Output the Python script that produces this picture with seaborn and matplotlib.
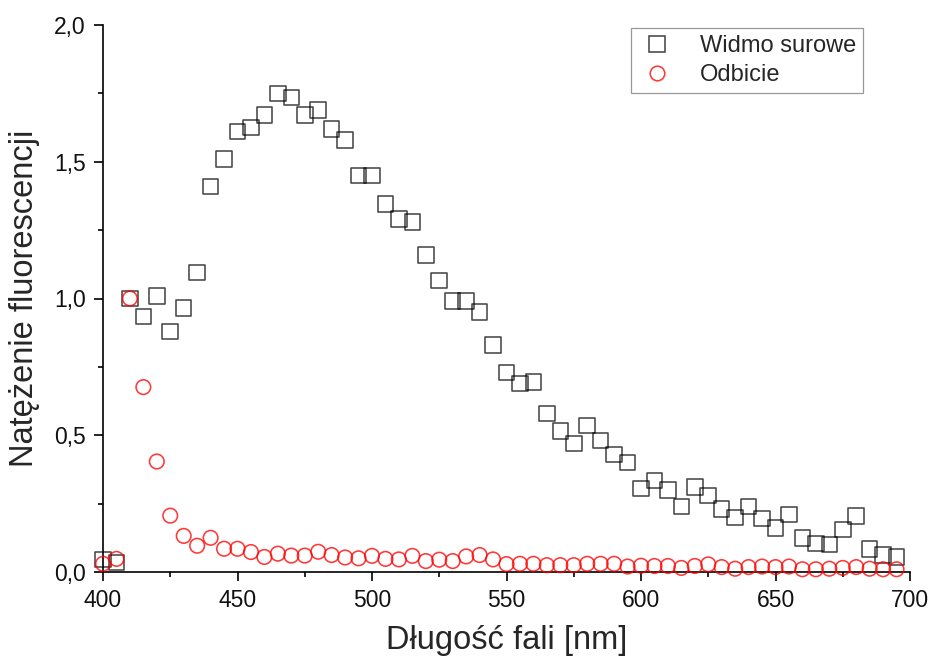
import matplotlib
matplotlib.use("Agg")
import matplotlib.pyplot as plt
from matplotlib.lines import Line2D
from matplotlib.ticker import MultipleLocator, FuncFormatter
import pandas as pd
import seaborn as sns

# Wavelength grid [nm]
wavelength = [400, 405, 410, 415, 420, 425, 430, 435, 440, 445,
              450, 455, 460, 465, 470, 475, 480, 485, 490, 495,
              500, 505, 510, 515, 520, 525, 530, 535, 540, 545,
              550, 555, 560, 565, 570, 575, 580, 585, 590, 595,
              600, 605, 610, 615, 620, 625, 630, 635, 640, 645,
              650, 655, 660, 665, 670, 675, 680, 685, 690, 695]

# Raw fluorescence spectrum (normalised)
raw_spectrum = [0.045, 0.035, 1.000, 0.935, 1.010, 0.880, 0.965, 1.095, 1.410, 1.510,
                1.610, 1.625, 1.670, 1.750, 1.735, 1.670, 1.690, 1.620, 1.580, 1.450,
                1.450, 1.345, 1.290, 1.280, 1.160, 1.065, 0.990, 0.990, 0.950, 0.830,
                0.730, 0.690, 0.695, 0.580, 0.515, 0.470, 0.535, 0.480, 0.430, 0.400,
                0.305, 0.335, 0.300, 0.240, 0.310, 0.280, 0.230, 0.200, 0.240, 0.195,
                0.160, 0.210, 0.125, 0.105, 0.100, 0.155, 0.205, 0.085, 0.062, 0.055]

# Reflected excitation light (normalised)
reflection = [0.030, 0.048, 1.000, 0.676, 0.404, 0.206, 0.132, 0.096, 0.125, 0.085,
              0.085, 0.073, 0.055, 0.067, 0.060, 0.060, 0.074, 0.062, 0.053, 0.050,
              0.059, 0.048, 0.046, 0.059, 0.040, 0.045, 0.040, 0.057, 0.062, 0.046,
              0.029, 0.030, 0.030, 0.025, 0.025, 0.025, 0.030, 0.030, 0.030, 0.020,
              0.023, 0.022, 0.022, 0.015, 0.022, 0.028, 0.018, 0.012, 0.018, 0.020,
              0.018, 0.020, 0.010, 0.010, 0.012, 0.015, 0.018, 0.012, 0.010, 0.010]

series_labels = ["Widmo surowe", "Odbicie"]
x_ticks = [400, 450, 500, 550, 600, 650, 700]
y_ticks = [0.0, 0.5, 1.0, 1.5, 2.0]

df = pd.DataFrame({"wl": wavelength, "raw": raw_spectrum, "refl": reflection})

sns.set_style("ticks")
plt.rcParams["font.family"] = ["Liberation Sans", "DejaVu Sans"]

fig = plt.figure(figsize=(9.32, 6.62), dpi=100)
ax = fig.add_axes([103 / 932, 1 - 572 / 662, 807 / 932, 547 / 662])

sq_size, ci_size = 125, 110
sq_color, ci_color = (0, 0, 0, 0.72), (1, 0, 0, 0.78)
lw = 1.15
sns.scatterplot(data=df, x="wl", y="raw", marker="s", s=sq_size,
                facecolors="none", edgecolor=sq_color, linewidth=lw,
                ax=ax, clip_on=False, zorder=3)
sns.scatterplot(data=df, x="wl", y="refl", marker="o", s=ci_size,
                facecolors="none", edgecolor=ci_color, linewidth=lw,
                ax=ax, clip_on=False, zorder=4)

ax.set_xlim(400, 700)
ax.set_ylim(0, 2.0)
ax.set_xticks(x_ticks)
ax.set_yticks(y_ticks)
ax.xaxis.set_minor_locator(MultipleLocator(25))
ax.yaxis.set_minor_locator(MultipleLocator(0.25))
ax.yaxis.set_major_formatter(FuncFormatter(lambda v, p: f"{v:.1f}".replace(".", ",")))

sns.despine(ax=ax)
for side in ("left", "bottom"):
    ax.spines[side].set_linewidth(1.2)
    ax.spines[side].set_color("black")
ax.tick_params(which="major", length=6.5, width=1.2, color="black",
               labelsize=16.5, pad=6, labelcolor="#111111")
ax.tick_params(which="minor", length=3.5, width=1.2, color="black")

ax.set_xlabel("Długość fali [nm]", fontsize=23.5, labelpad=9)
ax.set_ylabel("Natężenie fluorescencji", fontsize=23.5, labelpad=10)

handles = [
    Line2D([], [], linestyle="none", marker="s", markersize=sq_size ** 0.5,
           markerfacecolor="none", markeredgecolor=sq_color, markeredgewidth=lw),
    Line2D([], [], linestyle="none", marker="o", markersize=ci_size ** 0.5,
           markerfacecolor="none", markeredgecolor=ci_color, markeredgewidth=lw),
]
leg = ax.legend(handles, series_labels, loc="upper right",
                bbox_to_anchor=(0.942, 0.995),
                fontsize=17, frameon=True, fancybox=False, borderpad=0.3,
                labelspacing=0.3, handletextpad=1.0, borderaxespad=0,
                handlelength=1.6)
leg.get_frame().set_edgecolor("#808080")
leg.get_frame().set_linewidth(0.9)

fig.savefig("out.png", dpi=100)
